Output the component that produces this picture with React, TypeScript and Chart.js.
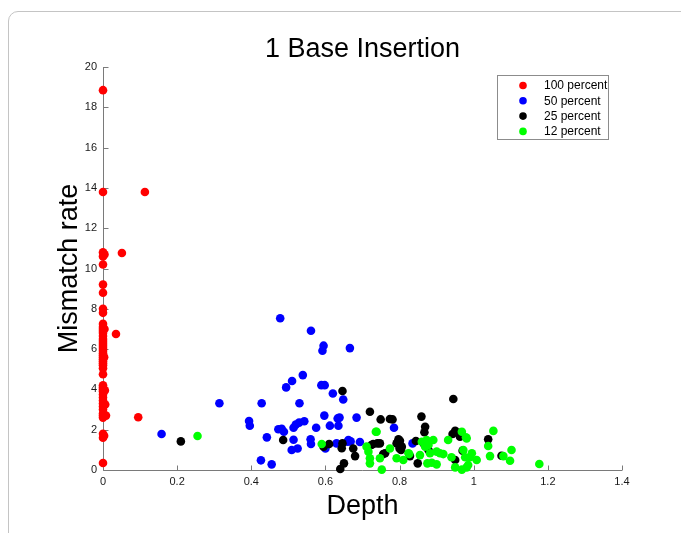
import React, { useEffect, useRef } from "react";
import { Chart, registerables } from "chart.js";

Chart.register(...registerables);

const chartTitle = "1 Base Insertion";
const xAxisTitle = "Depth";
const yAxisTitle = "Mismatch rate";
const seriesLabels = ["100 percent", "50 percent", "25 percent", "12 percent"];
const seriesColors = ["#ff0000", "#0000ff", "#000000", "#00ff00"];
const xTicks = [0, 0.2, 0.4, 0.6, 0.8, 1, 1.2, 1.4];
const yTicks = [0, 2, 4, 6, 8, 10, 12, 14, 16, 18, 20];

const p100X = [
  0, 0, 0, 0, 0, 0, 0, 0, 0, 0, 0, 0, 0, 0, 0, 0, 0, 0, 0, 0, 0, 0, 0, 0, 0, 0, 0, 0, 0, 0,
  0, 0, 0, 0, 0, 0, 0, 0, 0, 0, 0, 0, 0, 0, 0, 0, 0,
  0.004, 0.005, 0.006, 0.008, 0.003, 0.004, 0.003,
  0.113, 0.051, 0.035, 0.095,
];
const p100Y = [
  18.85, 13.8, 10.8, 10.6, 10.2, 9.2, 8.8, 8.0, 7.8, 7.25, 7.1, 7.0, 6.9, 6.8, 6.65, 6.5, 6.4, 6.3, 6.2, 6.1,
  6.0, 5.9, 5.8, 5.7, 5.6, 5.5, 5.4, 5.3, 5.2, 5.05, 4.75, 4.2, 4.1, 4.0, 3.9, 3.75, 3.6, 3.45, 3.3, 3.15,
  3.0, 2.8, 2.7, 2.6, 1.8, 1.6, 0.35,
  10.7, 3.95, 3.25, 2.7, 1.7, 7.0, 5.6,
  13.8, 10.77, 6.75, 2.62,
];

const p50X = [
  0.478, 0.561, 0.595, 0.592, 0.666, 0.539, 0.51, 0.494, 0.589, 0.598, 0.62, 0.314, 0.428, 0.53, 0.648,
  0.394, 0.396, 0.473, 0.482, 0.488, 0.514, 0.52, 0.529, 0.543, 0.575, 0.597, 0.612, 0.633, 0.638, 0.635,
  0.158, 0.442, 0.514, 0.56, 0.561, 0.509, 0.525, 0.6, 0.66, 0.426, 0.455, 0.684, 0.785, 0.662, 0.668,
  0.63, 0.693, 0.835,
];
const p50Y = [
  7.53, 6.91, 6.17, 5.92, 6.05, 4.71, 4.42, 4.1, 4.21, 4.21, 3.8, 3.31, 3.31, 3.31, 3.5,
  2.43, 2.2, 2.02, 2.05, 1.9, 2.1, 2.25, 2.35, 2.42, 2.1, 2.7, 2.2, 2.56, 2.6, 2.2,
  1.79, 1.62, 1.5, 1.52, 1.29, 0.99, 1.07, 1.07, 1.4, 0.48, 0.28, 2.6, 2.1, 1.49, 1.42,
  1.32, 1.39, 1.32,
];

const p25X = [
  0.21, 0.486, 0.595, 0.61, 0.644, 0.646, 0.65, 0.64, 0.72, 0.749, 0.774, 0.781, 0.945, 0.859, 0.869,
  0.867, 0.95, 0.943, 0.96, 0.797, 0.801, 0.792, 0.747, 0.729, 0.8, 0.804, 0.761, 0.646, 0.675, 0.68,
  0.844, 0.849, 0.828, 1.039, 1.075, 0.95, 0.97, 0.963, 0.806, 0.756, 0.74, 0.724, 0.866, 0.878,
];
const p25Y = [
  1.42, 1.49, 1.16, 1.29, 1.08, 3.92, 0.33, 0.05, 2.89, 2.51, 2.53, 2.51, 3.52, 2.65, 2.15,
  1.87, 1.94, 1.79, 1.85, 1.52, 1.45, 1.32, 1.32, 1.29, 1.07, 0.99, 0.83, 1.32, 1.07, 0.69,
  1.44, 0.33, 0.69, 1.52, 0.71, 0.5, 0.96, 1.65, 1.16, 0.79, 1.32, 1.24, 1.29, 0.99,
];

const p12X = [
  0.255, 0.59, 0.738, 0.716, 0.72, 0.72, 0.747, 0.752, 0.711, 0.774, 0.792, 0.81, 0.826, 0.873, 0.891,
  0.878, 0.869, 0.855, 0.882, 0.9, 0.918, 0.887, 0.9, 0.875, 0.931, 0.968, 0.979, 0.972, 0.977, 0.99,
  1.008, 0.995, 0.95, 0.968, 0.981, 1.053, 1.039, 1.044, 1.102, 1.098, 1.08, 1.177, 0.985, 0.86, 0.909,
  0.94, 0.824, 0.981, 0.736,
];
const p12Y = [
  1.69, 1.29, 1.9, 0.91, 0.58, 0.33, 0.58, 0.02, 1.16, 1.07, 0.58, 0.5, 0.79, 1.49, 1.49,
  1.24, 1.16, 0.74, 0.83, 0.91, 0.79, 0.36, 0.28, 0.33, 1.49, 1.9, 1.62, 0.99, 0.63, 0.63,
  0.5, 0.83, 0.13, 0.02, 0.13, 1.94, 1.19, 0.69, 0.99, 0.46, 0.69, 0.3, 0.25, 1.4, 0.83,
  0.63, 0.83, 1.57, 1.9,
];

const seriesX = [p100X, p50X, p25X, p12X];
const seriesY = [p100Y, p50Y, p25Y, p12Y];

const FONT = "'Liberation Sans', Arial, sans-serif";
const AXIS_COLOR = "#7a7a7a";

const fmt = (v: number) => String(Number(v.toFixed(1)));

const decorPlugin = {
  id: "decor",
  beforeDatasetsDraw(chart: any) {
    const ctx = chart.ctx as CanvasRenderingContext2D;
    const xs = chart.scales.x;
    const ys = chart.scales.y;
    const left = Math.round(xs.left) + 0.5;
    const bottom = Math.round(ys.bottom) + 0.5;
    const top = Math.round(ys.top);
    const right = Math.round(xs.right);
    ctx.save();
    ctx.strokeStyle = AXIS_COLOR;
    ctx.lineWidth = 1;
    ctx.beginPath();
    ctx.moveTo(left, top);
    ctx.lineTo(left, bottom);
    ctx.lineTo(right, bottom);
    xTicks.forEach((v) => {
      const px = Math.round(xs.getPixelForValue(v)) + 0.5;
      ctx.moveTo(px, bottom);
      ctx.lineTo(px, bottom - 5);
    });
    yTicks.forEach((v) => {
      const py = Math.round(ys.getPixelForValue(v)) + 0.5;
      ctx.moveTo(left, py);
      ctx.lineTo(left + 5, py);
    });
    ctx.stroke();
    ctx.restore();
  },
  afterDraw(chart: any) {
    const ctx = chart.ctx as CanvasRenderingContext2D;
    const xs = chart.scales.x;
    const ys = chart.scales.y;
    ctx.save();
    // titles
    const cx = (xs.left + xs.right) / 2;
    const cy = (ys.top + ys.bottom) / 2;
    ctx.fillStyle = "#000";
    ctx.textAlign = "center";
    ctx.textBaseline = "alphabetic";
    ctx.font = `27px ${FONT}`;
    ctx.fillText(chartTitle, cx, ys.top - 10);
    ctx.fillText(xAxisTitle, cx, ys.bottom + 44);
    ctx.save();
    ctx.translate(xs.left - 26, cy);
    ctx.rotate(-Math.PI / 2);
    ctx.fillText(yAxisTitle, 0, 0);
    ctx.restore();

    // legend
    const lx = 497.5;
    const ly = 75.5;
    ctx.fillStyle = "#fff";
    ctx.fillRect(lx, ly, 111, 64);
    ctx.strokeStyle = "#8c8c8c";
    ctx.lineWidth = 1;
    ctx.strokeRect(lx, ly, 111, 64);
    ctx.font = `12px ${FONT}`;
    ctx.textAlign = "left";
    ctx.textBaseline = "middle";
    seriesLabels.forEach((lab, i) => {
      const y = 85.5 + i * 15.3;
      ctx.fillStyle = seriesColors[i];
      ctx.beginPath();
      ctx.arc(523, y, 3.8, 0, Math.PI * 2);
      ctx.fill();
      ctx.fillStyle = "#000";
      ctx.fillText(lab, 544, y + 0.5);
    });
    ctx.restore();
  },
};

export default function App() {
  const ref = useRef<HTMLCanvasElement | null>(null);
  useEffect(() => {
    if (!ref.current) return;
    const datasets = seriesLabels.map((label, i) => ({
      label,
      data: seriesX[i].map((x, j) => ({ x, y: seriesY[i][j] })),
      backgroundColor: seriesColors[i],
      borderColor: seriesColors[i],
      borderWidth: 0,
      pointRadius: 4.3,
      pointHoverRadius: 4.3,
      clip: false,
      order: 4 - i,
    }));
    const chart = new Chart(ref.current, {
      type: "scatter",
      data: { datasets },
      options: {
        animation: false,
        responsive: false,
        maintainAspectRatio: false,
        layout: { padding: { left: 0, top: 67, right: 59, bottom: 0 } },
        plugins: { legend: { display: false }, tooltip: { enabled: false }, title: { display: false } },
        scales: {
          x: {
            type: "linear",
            min: 0,
            max: 1.4,
            grid: { display: false, drawTicks: false },
            border: { display: false },
            afterBuildTicks: (s: any) => {
              s.ticks = xTicks.map((v) => ({ value: v }));
            },
            afterFit: (s: any) => {
              s.height = 63;
            },
            ticks: {
              autoSkip: false,
              maxRotation: 0,
              padding: 5,
              color: "#1a1a1a",
              font: { family: FONT, size: 11 },
              callback: (v: any) => fmt(Number(v)),
            },
          },
          y: {
            type: "linear",
            min: 0,
            max: 20,
            grid: { display: false, drawTicks: false },
            border: { display: false },
            afterBuildTicks: (s: any) => {
              s.ticks = yTicks.map((v) => ({ value: v }));
            },
            afterFit: (s: any) => {
              s.width = 103;
            },
            ticks: {
              autoSkip: false,
              padding: 6,
              color: "#1a1a1a",
              font: { family: FONT, size: 11 },
              callback: (v: any) => fmt(Number(v)),
            },
          },
        },
      },
      plugins: [decorPlugin],
    });
    return () => chart.destroy();
  }, []);
  return (
    <div style={{ position: "fixed", left: 0, top: 0, width: 681, height: 533, overflow: "hidden", background: "#fff" }}>
      <div
        style={{
          position: "absolute",
          left: 8,
          top: 11,
          width: 720,
          height: 580,
          border: "1px solid #c4c4c4",
          borderTopLeftRadius: 10,
          boxSizing: "border-box",
        }}
      />
      <canvas ref={ref} width={681} height={533} style={{ position: "absolute", left: 0, top: 0, width: 681, height: 533 }} />
    </div>
  );
}
